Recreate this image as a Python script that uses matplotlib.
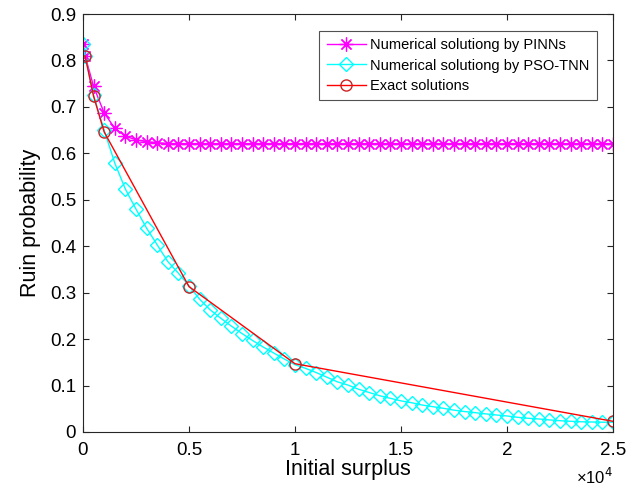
import numpy as np
import matplotlib
matplotlib.use("Agg")
import matplotlib.pyplot as plt
from matplotlib.ticker import FuncFormatter, MultipleLocator

plt.rcParams['font.family'] = ['Liberation Sans', 'DejaVu Sans']

# ---- data ----
grid_x = [0, 100] + list(range(500, 25001, 500))

pinn_y = [0.835, 0.81, 0.744, 0.687, 0.654, 0.637, 0.629, 0.625, 0.623] + [0.621] * 43

pso_y = [0.835, 0.81, 0.725, 0.650, 0.579, 0.523, 0.480, 0.439, 0.403, 0.367,
         0.342, 0.315, 0.286, 0.263, 0.245, 0.228, 0.212, 0.197, 0.183, 0.170,
         0.157, 0.145, 0.137, 0.128, 0.118, 0.108, 0.101, 0.092, 0.085, 0.078,
         0.0725, 0.067, 0.063, 0.058, 0.0545, 0.051, 0.047, 0.044, 0.0416, 0.039,
         0.0366, 0.0345, 0.0316, 0.0295, 0.028, 0.026, 0.0243, 0.023, 0.022, 0.0215,
         0.021, 0.021]

exact_x = [100, 500, 1000, 5000, 10000, 25000]
exact_y = [0.81, 0.723, 0.646, 0.313, 0.147, 0.023]

labels = ["Numerical solutiong by PINNs",
          "Numerical solutiong by PSO-TNN",
          "Exact solutions"]

fig = plt.figure(figsize=(6.3, 4.88), dpi=100)
ax = fig.add_axes([0.1317, 0.1148, 0.8413, 0.8565])

ax.plot(grid_x, pinn_y, color='#ff00ff', marker=(8, 2, 0), markersize=10,
        linewidth=1.0, markeredgewidth=0.9, label=labels[0])
ax.plot(grid_x, pso_y, color='#00ffff', marker='D', markersize=7,
        markerfacecolor='none', linewidth=1.0, markeredgewidth=1.0, label=labels[1])
ax.plot(exact_x, exact_y, color='#ff0000', marker='o', markersize=8,
        markerfacecolor='none', markeredgecolor='#cc2222', linewidth=1.0,
        markeredgewidth=1.0, label=labels[2])

ax.set_xlim(0, 25000)
ax.set_ylim(0, 0.9)
ax.xaxis.set_major_locator(MultipleLocator(5000))
ax.yaxis.set_major_locator(MultipleLocator(0.1))
ax.xaxis.set_major_formatter(FuncFormatter(lambda v, p: f"{v/1e4:g}"))
ax.yaxis.set_major_formatter(FuncFormatter(lambda v, p: f"{v:.1f}" if abs(v) > 1e-9 else "0"))

ax.tick_params(direction='in', top=True, right=True, labelsize=13.5,
               length=4, width=0.8, colors='#262626', labelcolor='black')
ax.tick_params(axis='x', pad=7)
ax.tick_params(axis='y', pad=5)
for s in ax.spines.values():
    s.set_color('#262626')
    s.set_linewidth(0.8)

ax.set_xlabel("Initial surplus", fontsize=15.5, labelpad=0)
ax.set_ylabel("Ruin probability", fontsize=15.5, labelpad=6)

ax.text(1.0, -0.108, "×10$^4$", transform=ax.transAxes, ha='right', va='center',
        fontsize=12)

leg = ax.legend(loc='upper right', bbox_to_anchor=(0.97, 0.96), fontsize=10.5,
                frameon=True, fancybox=False, edgecolor='#262626',
                borderpad=0.5, labelspacing=0.45, handlelength=2.7,
                handletextpad=0.3, borderaxespad=0)
leg.get_frame().set_linewidth(0.8)

fig.savefig("out.png", dpi=100)
